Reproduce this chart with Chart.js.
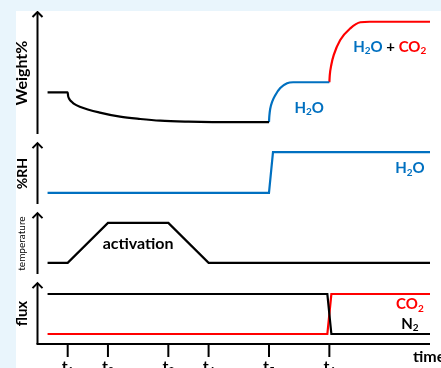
<!DOCTYPE html>
<html>
<head>
<meta charset="utf-8">
<script src="https://cdn.jsdelivr.net/npm/chart.js@4"></script>
<style>
html, body { margin: 0; padding: 0; background: #e9f5fc; overflow: hidden; }
#wrap { position: absolute; left: 16px; top: 11px; width: 425px; height: 357px; background: #fff; }
</style>
</head>
<body>
<div id="wrap"><canvas id="c" width="425" height="357"></canvas></div>
<script>
const BLUE = '#0070c0', RED = '#ff0000', BLACK = '#000000';

// time axis ticks t1..t6
const tickTimes = [1, 2, 3.5, 4.5, 6, 7.5];
const tickNames = ['1', '2', '3', '4', '5', '6'];

// Weight% panel
const dryT = [0.5, 1, 1.01, 1.03, 1.06, 1.1, 1.15, 1.3, 1.8, 2.3, 2.8, 3.3, 4.0, 4.6, 6.0];
const dryV = [34.2, 34.2, 31.3, 29.3, 27.7, 26.4, 24.9, 22.4, 17.5, 14.2, 12.3, 10.9, 10.1, 9.8, 9.7];
const h2oT = [6.0, 6.01, 6.03, 6.08, 6.16, 6.28, 6.45, 6.6, 7.5];
const h2oV = [9.7, 15, 20.5, 26.5, 32.0, 37.7, 41.6, 42.4, 42.4];
const co2T = [7.5, 7.51, 7.55, 7.61, 7.77, 8.02, 8.27, 8.5, 10];
const co2V = [42.4, 48, 57, 64.8, 77.0, 86.6, 91.6, 92, 92];

// %RH panel
const rhT = [0.5, 6.0, 6.1, 10];
const rhV = [16, 16, 74, 74];

// temperature panel
const tempT = [0.5, 1, 2, 3.5, 4.5, 10];
const tempV = [16, 16, 73, 73, 16, 16];

// flux panel
const fluxT = [0.5, 7.45, 7.55, 10];
const n2V = [71.4, 71.4, 14.3, 14.3];
const co2FluxV = [14.3, 14.3, 71.4, 71.4];

function pts(t, v) { return t.map((x, i) => ({x: x, y: v[i]})); }

function line(t, v, color, axis, smooth) {
  return {
    data: pts(t, v), yAxisID: axis, borderColor: color, borderWidth: 2.2,
    pointRadius: 0, fill: false,
    cubicInterpolationMode: smooth ? 'monotone' : 'default', tension: 0
  };
}

const panels = [
  {id: 'yW', tip: 100, title: 'Weight%', font: 'bold 16px Lato'},
  {id: 'yRH', tip: 87, title: '%RH', font: 'bold 14px Lato'},
  {id: 'yT', tip: 87, title: 'temperature', font: '10px Lato'},
  {id: 'yF', tip: 87, title: 'flux', font: 'bold 15px Lato'}
];

const notes = [
  {axis: 'yW', x: 7.0, y: 21.3, size: 15, parts: [['H', BLUE], ['2', BLUE, 1], ['O', BLUE]]},
  {axis: 'yW', x: 9.0, y: 71.3, size: 15, parts: [['H', BLUE], ['2', BLUE, 1], ['O', BLUE], [' + ', BLACK], ['CO', RED], ['2', RED, 1]]},
  {axis: 'yRH', x: 9.5, y: 51, size: 15, parts: [['H', BLUE], ['2', BLUE, 1], ['O', BLUE]]},
  {axis: 'yT', x: 2.75, y: 43, size: 16, parts: [['activation', BLACK]]},
  {axis: 'yF', x: 9.5, y: 56.7, size: 15, parts: [['CO', RED], ['2', RED, 1]]},
  {axis: 'yF', x: 9.5, y: 28.6, size: 15, parts: [['N', BLACK], ['2', BLACK, 1]]}
];

function drawRich(ctx, parts, x, y, size) {
  const big = 'bold ' + size + 'px Lato', small = 'bold ' + Math.round(size * 0.65) + 'px Lato';
  let w = 0;
  parts.forEach(p => { ctx.font = p[2] ? small : big; w += ctx.measureText(p[0]).width; });
  let cx = x - w / 2;
  ctx.textAlign = 'left';
  ctx.textBaseline = 'middle';
  parts.forEach(p => {
    ctx.font = p[2] ? small : big;
    ctx.fillStyle = p[1];
    ctx.fillText(p[0], cx, p[2] ? y + size * 0.28 : y);
    cx += ctx.measureText(p[0]).width;
  });
}

const axesPlugin = {
  id: 'axes',
  afterDraw(chart) {
    const ctx = chart.ctx, xs = chart.scales.x, L = chart.chartArea.left;
    ctx.save();
    ctx.strokeStyle = BLACK;
    ctx.fillStyle = BLACK;
    ctx.lineWidth = 2;
    panels.forEach(p => {
      const s = chart.scales[p.id];
      const tip = s.getPixelForValue(p.tip);
      ctx.beginPath();
      ctx.moveTo(L, s.bottom);
      ctx.lineTo(L, tip);
      ctx.stroke();
      ctx.beginPath();
      ctx.moveTo(L - 5, tip + 5);
      ctx.lineTo(L, tip);
      ctx.lineTo(L + 5, tip + 5);
      ctx.stroke();
      ctx.save();
      ctx.translate(6, (s.bottom + tip) / 2);
      ctx.rotate(-Math.PI / 2);
      ctx.font = p.font;
      ctx.textAlign = 'center';
      ctx.textBaseline = 'middle';
      ctx.fillText(p.title, 0, 0);
      ctx.restore();
    });
    const axisY = chart.scales.yF.bottom;
    ctx.beginPath();
    ctx.moveTo(L - 1, axisY);
    ctx.lineTo(chart.chartArea.right, axisY);
    ctx.stroke();
    tickTimes.forEach((t, i) => {
      const px = xs.getPixelForValue(t);
      ctx.beginPath();
      ctx.moveTo(px, axisY);
      ctx.lineTo(px, axisY + 13);
      ctx.stroke();
      ctx.font = 'bold 16px Lato';
      const w1 = ctx.measureText('t').width;
      ctx.font = 'bold 10px Lato';
      const w2 = ctx.measureText(tickNames[i]).width;
      const x0 = px - (w1 + w2) / 2;
      ctx.textBaseline = 'top';
      ctx.textAlign = 'left';
      ctx.font = 'bold 16px Lato';
      ctx.fillText('t', x0, axisY + 15);
      ctx.font = 'bold 10px Lato';
      ctx.fillText(tickNames[i], x0 + w1, axisY + 22);
    });
    ctx.font = 'bold 16px Lato';
    ctx.textAlign = 'left';
    ctx.textBaseline = 'alphabetic';
    ctx.fillText('time', chart.chartArea.right - 17, axisY + 18);
    notes.forEach(n => {
      const s = chart.scales[n.axis];
      drawRich(ctx, n.parts, xs.getPixelForValue(n.x), s.getPixelForValue(n.y), n.size);
    });
    ctx.restore();
  }
};

function yAxis(weight, stackWeight) {
  return {type: 'linear', position: 'left', stack: 'panels', stackWeight: stackWeight,
    weight: weight, min: 0, max: 100, display: false};
}

new Chart(document.getElementById('c').getContext('2d'), {
  type: 'line',
  data: {
    datasets: [
      line(dryT, dryV, BLACK, 'yW', true),
      line(h2oT, h2oV, BLUE, 'yW', true),
      line(co2T, co2V, RED, 'yW', true),
      line(rhT, rhV, BLUE, 'yRH', false),
      line(tempT, tempV, BLACK, 'yT', false),
      line(fluxT, n2V, BLACK, 'yF', false),
      line(fluxT, co2FluxV, RED, 'yF', false)
    ]
  },
  options: {
    responsive: false,
    animation: false,
    layout: {padding: {left: 21.5, right: 11, top: 1, bottom: 24}},
    plugins: {legend: {display: false}, tooltip: {enabled: false}},
    scales: {
      x: {type: 'linear', min: 0.25, max: 10, display: false},
      yW: yAxis(4, 122),
      yRH: yAxis(3, 70),
      yT: yAxis(2, 70),
      yF: yAxis(1, 70)
    }
  },
  plugins: [axesPlugin]
});
</script>
</body>
</html>
